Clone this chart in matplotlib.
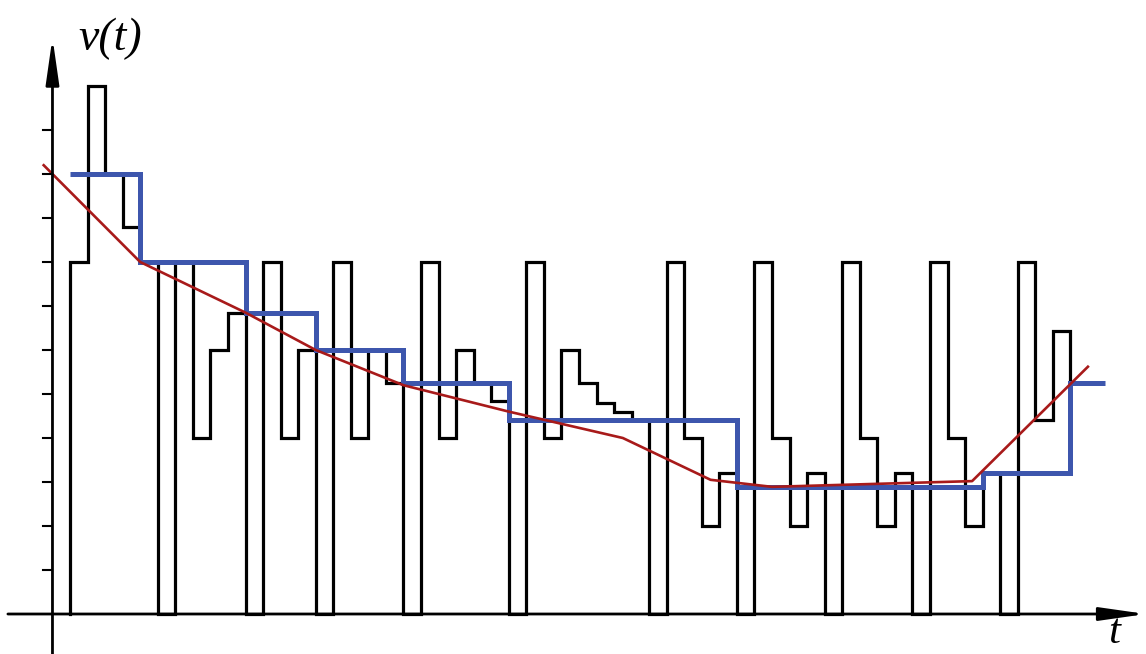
import numpy as np
import matplotlib
matplotlib.use("Agg")
import matplotlib.pyplot as plt

# ---- data (time in grid cells, value in tick units) ----
black_edges = list(range(1, 60))
black_values = [8, 12, 10, 8.8, 8, 0, 8, 4, 6, 6.85,
                0, 8, 4, 6, 0, 8, 4, 6, 5.25, 0,
                8, 4, 6, 5.25, 4.83, 0, 8, 4, 6, 5.25,
                4.8, 4.6, 4.42, 0, 8, 4, 2, 3.2, 0, 8,
                4, 2, 3.2, 0, 8, 4, 2, 3.2, 0, 8,
                4, 2, 3.2, 0, 8, 4.42, 6.43, 5.25]

blue_edges = [1, 5, 11, 15, 20, 26, 39, 53, 58, 60]
blue_values = [10, 8, 6.85, 6.0, 5.25, 4.42, 2.89, 3.2, 5.25]

red_t = [-0.5, 5, 11, 15, 20, 26, 32.5, 37.5, 41, 52.4, 59.0]
red_v = [10.2, 8, 6.85, 6.0, 5.2, 4.6, 4.0, 3.05, 2.89, 3.02, 5.62]

y_ticks = list(range(1, 12))

# ---- figure ----
W, H = 1146, 654
fig = plt.figure(figsize=(W / 100, H / 100), dpi=100)
ax = fig.add_axes([0, 0, 1, 1])
ax.set_xlim(-2.99, 62.31)
ax.set_ylim(-0.909, 13.955)
ax.axis("off")

# black step signal (starts from zero)
bx = np.repeat(black_edges, 2)[1:-1]
by = np.repeat(black_values, 2)
bx = np.concatenate([[black_edges[0]], bx])
by = np.concatenate([[0], by])
ax.plot(bx, by, color="black", lw=2.3, solid_joinstyle="miter", zorder=2)

# blue piecewise constant
ax.stairs(blue_values, blue_edges, baseline=None, color="#3d56ad", lw=3.6, zorder=3)

# red trend
ax.plot(red_t, red_v, color="#a81a1a", lw=1.9, zorder=4)

# axes with arrows
ax.annotate("", xy=(62.31, 0), xytext=(-2.54, 0),
            arrowprops=dict(arrowstyle="-|>,head_width=0.2,head_length=1.4",
                            color="black", lw=2.0, mutation_scale=20,
                            shrinkA=0, shrinkB=0), zorder=5)
ax.annotate("", xy=(0, 13.1), xytext=(0, -0.909),
            arrowprops=dict(arrowstyle="-|>,head_width=0.2,head_length=1.4",
                            color="black", lw=2.0, mutation_scale=20,
                            shrinkA=0, shrinkB=0), zorder=5)

# y ticks
for v in y_ticks:
    ax.plot([-0.55, 0], [v, v], color="black", lw=1.5, zorder=5)

# labels
ax.text(1.45, 12.82, "v(t)", fontsize=33, family="Liberation Serif",
        style="italic", ha="left", va="baseline")
ax.text(60.15, -0.66, "t", fontsize=31, family="Liberation Serif",
        style="italic", ha="left", va="baseline")

fig.savefig("out.png", dpi=100)
